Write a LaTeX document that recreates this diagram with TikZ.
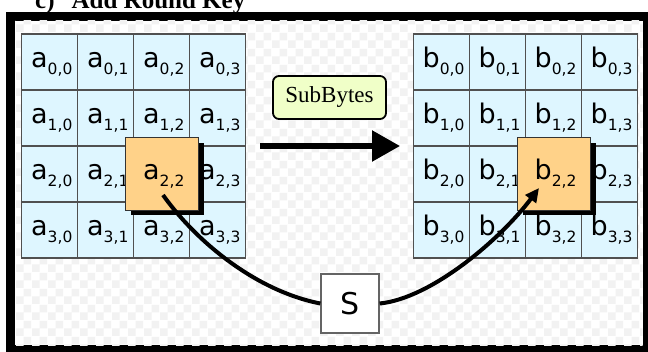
\documentclass[tikz,border=0pt]{standalone}
\usepackage{fontspec}
\setmainfont{Liberation Serif}
\newfontfamily\dvs{DejaVu Sans}
\usetikzlibrary{arrows.meta,shadows,patterns,calc}
\pgfdeclarepatternformonly{checker}{\pgfpointorigin}{\pgfqpoint{16pt}{16pt}}{\pgfqpoint{16pt}{16pt}}{%
  \pgfpathrectangle{\pgfpointorigin}{\pgfqpoint{8pt}{8pt}}%
  \pgfpathrectangle{\pgfqpoint{8pt}{8pt}}{\pgfqpoint{8pt}{8pt}}%
  \pgfusepath{fill}}
\definecolor{cellfill}{RGB}{222,246,255}
\definecolor{gridline}{RGB}{80,80,80}
\definecolor{orangefill}{RGB}{255,210,137}
\definecolor{sbfill}{RGB}{240,255,200}
\definecolor{sgray}{RGB}{100,100,100}
\newcommand{\cellt}[3]{{\dvs\fontsize{27}{27}\selectfont #1\raisebox{-7pt}{\fontsize{15.5}{15.5}\selectfont #2,#3}}}
\tikzset{
  cell/.style={draw=gridline, line width=1.2pt, fill=cellfill, minimum size=56pt, inner sep=0pt, rectangle},
  ctext/.style={anchor=base west, inner sep=0pt, outer sep=0pt},
  hibox/.style={draw=black!80, line width=0.8pt, fill=orangefill, minimum size=72.6pt, inner sep=0pt, rectangle,
    drop shadow={shadow xshift=6pt, shadow yshift=-5pt, fill=black, opacity=1}},
  sbbox/.style={draw=black, line width=1.8pt, fill=sbfill, rounded corners=6pt, minimum width=113pt, minimum height=43pt, inner sep=0pt,
    font=\fontsize{23}{23}\selectfont},
  sboxst/.style={draw=sgray, line width=1.3pt, fill=white, minimum width=58pt, minimum height=59pt, inner sep=0pt,
    font=\dvs\fontsize{30}{30}\selectfont},
  conn/.style={line width=4pt, black},
}
\begin{document}
\begin{tikzpicture}[x=1pt,y=-1pt]
\useasboundingbox (0,0) rectangle (648,351);
% title (cut off at the top)
\node[anchor=base west, inner sep=0pt, font=\fontsize{25}{25}\selectfont\bfseries] (title) at (35,8.5) {c)\hspace{17pt}Add Round Key};
% frame
\fill[black] (6,12) rectangle (660,360);
\fill[white] (15,20.5) rectangle (642.5,345);
\fill[pattern=checker, pattern color=black!5] (15,20.5) rectangle (642.5,345);
% grids
\foreach \r in {0,...,3}{\foreach \c in {0,...,3}{
  \node[cell] (a\r\c) at ({21.7+28+56*\c},{34+28+56*\r}) {};
  \node[ctext] (ta\r\c) at ({21.7+56*\c+9.5},{34+56*\r+33}) {\cellt{a}{\r}{\c}};
  \node[cell] (b\r\c) at ({413.7+28+56*\c},{34+28+56*\r}) {};
  \node[ctext] (tb\r\c) at ({413.7+56*\c+9},{34+56*\r+33}) {\cellt{b}{\r}{\c}};
}}
% highlighted boxes
\node[hibox] (a22box) at (a22) {};
\node[ctext] (ta22h) at ({21.7+112+9.5},{34+112+33}) {\cellt{a}{2}{2}};
\node[hibox] (b22box) at (b22) {};
\node[ctext] (tb22h) at ({413.7+112+9},{34+112+33}) {\cellt{b}{2}{2}};
% SubBytes label and arrow
\node[sbbox] (sb) at (329.5,97.5) {SubBytes};
\coordinate (arrS) at (260,146);
\coordinate (arrE) at (400,146);
\draw[line width=5.5pt, -{Triangle[length=28pt,width=30pt]}] (arrS) -- (arrE);
% S box and curves
\node[sboxst] (S) at (350,303.5) {S};
\draw[conn] ($(a22.center)+(1.3,21)$) .. controls +(32,45) and +(-66,-13) .. (S.west);
\draw[conn, -{Triangle[length=14pt,width=13pt]}] (S.east) .. controls +(51,-5) and +(-39,52) .. ($(b22.center)+(-14.7,14)$);
\end{tikzpicture}
\end{document}
